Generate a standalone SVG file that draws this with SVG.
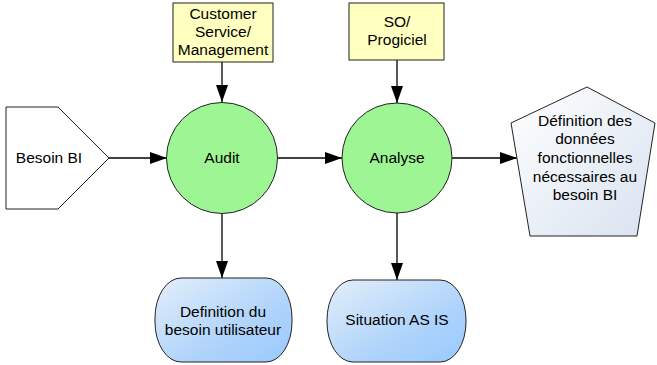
<svg xmlns="http://www.w3.org/2000/svg" width="657" height="365" viewBox="0 0 657 365">
<style>
text{font-family:"Liberation Sans",Arial,sans-serif;font-size:15.5px;fill:#000;text-anchor:middle}
.stk{stroke:#222;stroke-width:1}
.conn line{stroke:#000;stroke-width:1.3;marker-end:url(#ah)}
</style>
<defs>
<marker id="ah" markerUnits="userSpaceOnUse" markerWidth="18" markerHeight="14" refX="17" refY="7" orient="auto">
<path d="M0,1 L17,7 L0,13 Z" fill="#000"/>
</marker>
<linearGradient id="blue" x1="0" y1="0" x2="1" y2="1">
<stop offset="0" stop-color="#e4eefa"/>
<stop offset="0.6" stop-color="#b0d4fb"/>
<stop offset="1" stop-color="#99c9ff"/>
</linearGradient>
<linearGradient id="pent" x1="0" y1="0" x2="1" y2="1">
<stop offset="0" stop-color="#ffffff"/>
<stop offset="1" stop-color="#d8e2f0"/>
</linearGradient>
</defs>
<g class="conn">
<line x1="109" y1="158" x2="167" y2="158"/>
<line x1="278" y1="158" x2="342" y2="158"/>
<line x1="452" y1="158" x2="517" y2="158"/>
<line x1="222" y1="62" x2="222" y2="102"/>
<line x1="397" y1="60" x2="397" y2="103"/>
<line x1="222" y1="214" x2="222" y2="278"/>
<line x1="397" y1="213" x2="397" y2="280"/>
</g>
<g id="besoin">
<path class="stk" d="M6,107 L58,107 L109,158 L58,209 L6,209 Z" fill="#fff"/>
<text x="49" y="163">Besoin BI</text>
</g>
<g id="customer">
<rect class="stk" x="173" y="3" width="100" height="59" fill="#ffffc0"/>
<text x="223" y="19">Customer</text>
<text x="223" y="37">Service/</text>
<text x="223" y="55">Management</text>
</g>
<g id="so">
<rect class="stk" x="349" y="3" width="95" height="57" fill="#ffffc0"/>
<text x="397" y="27">SO/</text>
<text x="397" y="45">Progiciel</text>
</g>
<g id="audit">
<circle class="stk" cx="222" cy="158" r="55.5" fill="#9ef593"/>
<text x="222" y="163">Audit</text>
</g>
<g id="analyse">
<circle class="stk" cx="397" cy="158" r="55" fill="#9ef593"/>
<text x="397" y="163">Analyse</text>
</g>
<g id="definition">
<path class="stk" d="M587,87 L655,123 L637,236 L530,236 L511,123 Z" fill="url(#pent)"/>
<text x="585" y="126">Définition des</text>
<text x="585" y="144">données</text>
<text x="585" y="163">fonctionnelles</text>
<text x="585" y="182">nécessaires au</text>
<text x="585" y="200">besoin BI</text>
</g>
<g id="besoin-utilisateur">
<rect class="stk" x="155" y="278" width="137" height="84" rx="26" ry="40" fill="url(#blue)"/>
<text x="223" y="317">Definition du</text>
<text x="223" y="335">besoin utilisateur</text>
</g>
<g id="situation">
<rect class="stk" x="327" y="280" width="139" height="82" rx="26" ry="40" fill="url(#blue)"/>
<text x="397" y="325">Situation AS IS</text>
</g>
</svg>
